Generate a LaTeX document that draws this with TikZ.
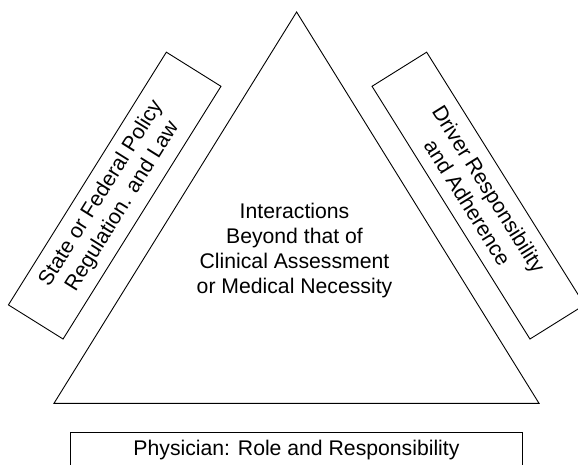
\documentclass[tikz,border=0pt]{standalone}
\usepackage{fontspec}
\setmainfont{Liberation Sans}
\begin{document}
\begin{tikzpicture}[x=1pt,y=-1pt,
  every node/.style={font=\fontsize{21.2}{25}\selectfont, align=center, inner sep=0pt},
  edge/.style={draw=black, line width=0.9pt},
  sidebox/.style={edge, rectangle, minimum width=298pt, minimum height=64.4pt},
  basebox/.style={edge, rectangle, minimum width=451.6pt, minimum height=34.6pt}]
\useasboundingbox (0,0) rectangle (578,465);
\clip (0,0) rectangle (578,465);
\coordinate (apex) at (296.6,12);
\coordinate (bl) at (54,403.3);
\coordinate (br) at (539,403.3);
\draw[edge, line join=miter] (apex) -- (bl) -- (br) -- cycle;
\node (center) at (294.5,251) {Interactions\\Beyond that of\\Clinical Assessment\\or Medical Necessity};
\node[sidebox, rotate=58] (left) at (114.7,195.6) {};
\node[rotate=58] (lefttext) at (112.0,199.8) {State or Federal Policy\\Regulation. and Law};
\node[sidebox, rotate=-58] (right) at (478.3,195.6) {Driver Responsibility\\and Adherence};
\node[basebox] (bottom) at (296.5,450) {Physician: Role and Responsibility};
\end{tikzpicture}
\end{document}
